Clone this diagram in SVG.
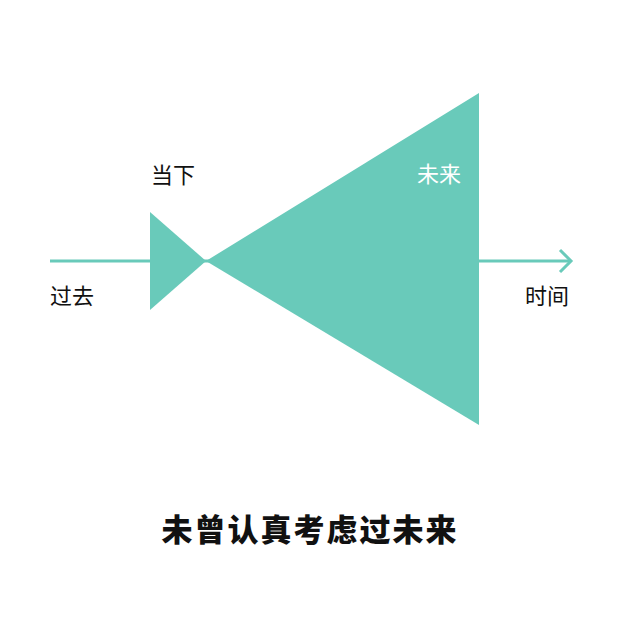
<svg xmlns="http://www.w3.org/2000/svg" width="620" height="620" viewBox="0 0 620 620">
<style>
.lbl{font-family:"Noto Sans CJK SC","Noto Sans",sans-serif;font-size:22px;fill:#111}
.title{font-family:"Noto Sans CJK SC",sans-serif;font-size:31px;font-weight:900;fill:#111;letter-spacing:2px}
.shape{fill:#69CABA}
.axis{stroke:#69CABA;stroke-width:3;fill:none}
</style>
<rect width="620" height="620" fill="#fff"/>
<g id="connectors">
<line class="axis" x1="50" y1="261" x2="571" y2="261"/>
<polyline class="axis" points="560,250 571,261 560,272"/>
</g>
<g id="present"><polygon class="shape" points="150,212 206,261 150,310"/></g>
<g id="future"><polygon class="shape" points="206,261 479,93 479,425"/></g>
<text class="lbl" x="151" y="183">当下</text>
<text class="lbl" x="417" y="182" style="fill:#fff">未来</text>
<text class="lbl" x="50" y="304">过去</text>
<text class="lbl" x="525" y="304">时间</text>
<text class="title" x="310" y="541" text-anchor="middle">未曾认真考虑过未来</text>
</svg>
